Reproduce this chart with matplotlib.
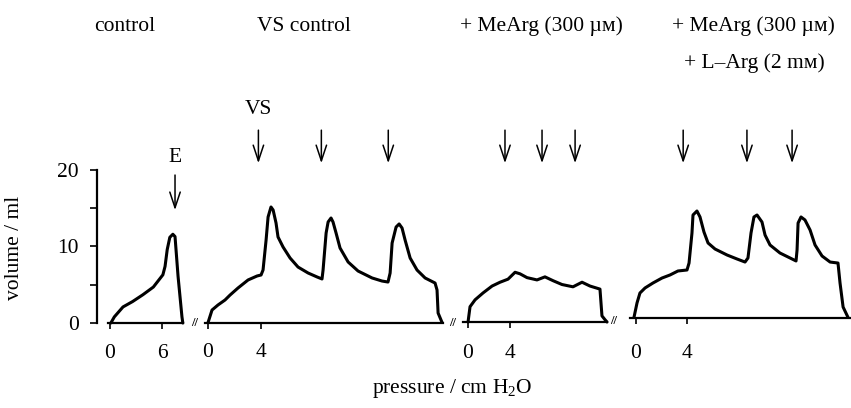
import matplotlib
matplotlib.use("Agg")
import matplotlib.pyplot as plt

plt.rcParams['font.family'] = ['Liberation Serif', 'DejaVu Serif', 'DejaVu Sans']
plt.rcParams['mathtext.fontset'] = 'custom'
plt.rcParams['mathtext.rm'] = 'Liberation Serif'
plt.rcParams['font.size'] = 15.5

# pressure (cm H2O) / volume (ml) traces
p_control = [0.1, 0.5, 1.5, 2.6, 3.8, 5.0, 6.1, 6.35, 6.6, 6.9, 7.25, 7.5, 7.85, 8.3, 8.4]
v_control = [0, 0.8, 2.1, 2.8, 3.7, 4.7, 6.3, 7.4, 9.6, 11.2, 11.6, 11.3, 6.1, 0.8, 0]

p_vs = [0, 0.30, 0.75, 1.28, 1.66, 2.26, 3.02, 3.70, 4.00, 4.15, 4.38, 4.53, 4.75, 4.91,
        5.13, 5.28, 5.66, 6.19, 6.79, 7.55, 8.23, 8.60, 8.68, 8.91, 9.06, 9.28, 9.43,
        9.66, 9.96, 10.57, 11.32, 12.38, 13.13, 13.58, 13.74, 13.89, 14.19, 14.42, 14.64,
        14.87, 15.25, 15.77, 16.38, 17.13, 17.28, 17.36, 17.66]
v_vs = [0, 1.63, 2.29, 2.94, 3.59, 4.51, 5.56, 6.08, 6.21, 6.86, 10.78, 13.79, 15.10, 14.71,
        13.01, 11.18, 9.87, 8.43, 7.25, 6.47, 5.95, 5.69, 6.86, 11.70, 13.14, 13.66, 13.14,
        11.70, 9.74, 7.91, 6.73, 5.82, 5.42, 5.29, 6.47, 10.39, 12.48, 12.88, 12.35,
        10.78, 8.43, 6.86, 5.82, 5.16, 4.25, 1.24, 0]

p_mearg = [0, 0.19, 0.67, 1.43, 2.29, 3.05, 3.81, 4.48, 4.95, 5.62, 6.57, 7.33, 8.1,
           8.95, 10.0, 10.86, 11.62, 12.57, 12.76, 13.05, 13.24]
v_mearg = [0, 2, 2.9, 3.8, 4.7, 5.2, 5.6, 6.5, 6.3, 5.8, 5.5, 5.9, 5.4,
           4.9, 4.6, 5.2, 4.7, 4.3, 0.8, 0.3, 0]

p_larg = [-0.16, 0.08, 0.31, 0.71, 1.33, 2.04, 2.67, 3.29, 4.00, 4.16, 4.39, 4.47, 4.78,
          5.02, 5.33, 5.65, 6.20, 7.14, 7.92, 8.55, 8.78, 9.02, 9.25, 9.49, 9.88, 10.12,
          10.51, 11.29, 12.08, 12.55, 12.63, 12.71, 12.94, 13.25, 13.65, 14.04, 14.59,
          15.22, 15.84, 16.0, 16.24, 16.63]
v_larg = [0, 1.90, 3.20, 3.86, 4.51, 5.16, 5.56, 6.08, 6.21, 7.12, 11.05, 13.40, 13.92,
          13.14, 11.18, 9.74, 8.95, 8.17, 7.65, 7.25, 7.78, 11.05, 13.14, 13.40, 12.48, 10.78,
          9.48, 8.43, 7.78, 7.39, 8.82, 12.35, 13.14, 12.75, 11.44, 9.48, 8.04,
          7.25, 7.12, 4.51, 1.37, 0]

# arrow positions (pressure) per panel
arrows_control = [7.5]
arrows_vs = [3.8, 8.55, 13.6]
arrows_mearg = [3.52, 7.05, 10.2]
arrows_larg = [3.7, 8.7, 12.24]

titles = ['control', 'VS control', '+ MeArg (300 µᴍ)', '+ MeArg (300 µᴍ)\n+ L–Arg (2 mᴍ)']
xticks = [[0, 6], [0, 4], [0, 4], [0, 4]]

W, H = 851, 408
fig = plt.figure(figsize=(W / 100, H / 100), dpi=100)


def rect(x0, x1, ybase):
    return [x0 / W, (H - ybase) / H, (x1 - x0) / W, 153 / H]


panels = [
    dict(r=rect(108, 183, 323), xlim=(-0.23, 8.42), p=p_control, v=v_control, arr=arrows_control, pad=11),
    dict(r=rect(205, 443, 322.5), xlim=(-0.23, 17.73), p=p_vs, v=v_vs, arr=arrows_vs, pad=11),
    dict(r=rect(463, 607, 322), xlim=(-0.48, 13.24), p=p_mearg, v=v_mearg, arr=arrows_mearg, pad=11.5),
    dict(r=rect(630, 851, 317.5), xlim=(-0.47, 16.86), p=p_larg, v=v_larg, arr=arrows_larg, pad=15),
]

axes = []
for i, pn in enumerate(panels):
    ax = fig.add_axes(pn['r'])
    ax.plot(pn['p'], pn['v'], color='black', lw=2.2, clip_on=False,
            solid_joinstyle='round', solid_capstyle='round')
    ax.set_xlim(*pn['xlim'])
    ax.set_ylim(0, 20)
    ax.patch.set_visible(False)
    for s in ['top', 'right']:
        ax.spines[s].set_visible(False)
    ax.spines['bottom'].set_linewidth(1.6)
    ax.set_xticks(xticks[i])
    ax.tick_params(axis='x', direction='out', length=4, width=1.2, pad=pn['pad'])
    if i == 0:
        ax.spines['left'].set_position(('outward', 8))
        ax.spines['left'].set_linewidth(1.6)
        ax.set_yticks([0, 5, 10, 15, 20])
        ax.set_yticklabels(['0', '', '10', '', '20'])
        ax.tick_params(axis='y', direction='out', length=5, width=1.2, pad=8)
    else:
        ax.spines['left'].set_visible(False)
        ax.set_yticks([])
    for a in pn['arr']:
        top, bot = (0.571, 0.485) if i == 0 else (0.681, 0.600)
        ax.annotate('', xy=(a, bot), xycoords=('data', 'figure fraction'),
                    xytext=(a, top), textcoords=('data', 'figure fraction'),
                    arrowprops=dict(arrowstyle='->,head_length=0.75,head_width=0.25',
                                    lw=1.1, color='black', mutation_scale=15,
                                    shrinkA=0, shrinkB=0))
    axes.append(ax)

axes[0].annotate('E', xy=(arrows_control[0], (H - 157) / H), xycoords=('data', 'figure fraction'),
                 ha='center', va='center')
axes[1].annotate('VS', xy=(arrows_vs[0], (H - 110) / H), xycoords=('data', 'figure fraction'),
                 ha='center', va='center')

fig.text(15 / W, (H - 248) / H, 'volume / ml', rotation=90, ha='center', va='center')

# panel headings
fig.text(125 / W, (H - 31) / H, titles[0], ha='center', va='baseline')
fig.text(304 / W, (H - 31) / H, titles[1], ha='center', va='baseline')
fig.text(541 / W, (H - 31) / H, titles[2], ha='center', va='baseline')
t1, t2 = titles[3].split('\n')
fig.text(753 / W, (H - 31) / H, t1, ha='center', va='baseline')
fig.text(754 / W, (H - 68) / H, t2, ha='center', va='baseline')

# axis breaks
for xb, yb in [(195, 323), (453, 323), (614, 321)]:
    fig.text(xb / W, (H - yb) / H, '//', ha='center', va='center', fontsize=9,
             fontweight='bold')

fig.text(452 / W, (H - 393) / H, 'pressure / cm H$_2$O', ha='center', va='baseline')

fig.savefig('out.png', dpi=100)
